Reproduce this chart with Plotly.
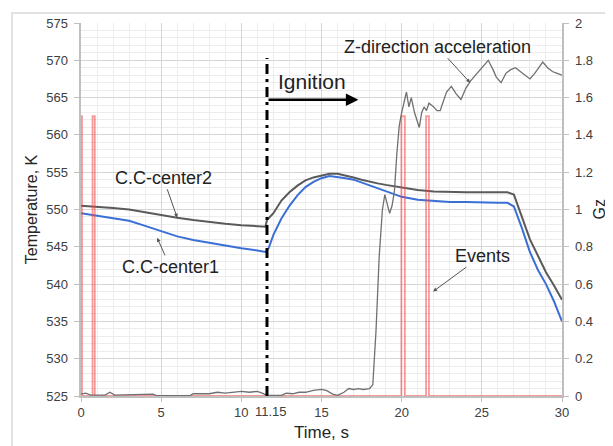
import plotly.graph_objects as go

# ---------------- data ----------------
time_c2 = [0, 1, 2, 3, 4, 5, 6, 7, 8, 9, 10, 11, 11.5, 11.6, 12, 12.5, 13, 13.5, 14, 14.5,
           15, 15.5, 16, 16.5, 17, 17.5, 18, 18.5, 19, 19.5, 20, 21, 22, 23, 24, 25, 26,
           26.6, 27, 27.5, 28, 28.5, 29, 29.5, 30]
temp_c2 = [550.5, 550.4, 550.2, 550.0, 549.6, 549.2, 548.9, 548.6, 548.3, 548.1, 547.9, 547.8,
           547.7, 548.6, 549.5, 551.2, 552.3, 553.2, 553.9, 554.3, 554.6, 554.8, 554.8, 554.6,
           554.3, 554.0, 553.7, 553.5, 553.3, 553.1, 553.0, 552.6, 552.4, 552.3, 552.3, 552.3,
           552.3, 552.3, 552.0, 549.0, 546.0, 543.8, 541.6, 539.8, 537.9]

time_c1 = [0, 1, 2, 3, 4, 5, 6, 7, 8, 9, 10, 11, 11.5, 11.7, 12, 12.5, 13, 13.5, 14, 14.5,
           15, 15.5, 16, 16.5, 17, 17.5, 18, 18.5, 19, 19.5, 20, 21, 22, 23, 24, 25, 26,
           26.6, 27, 27.5, 28, 28.5, 29, 29.5, 30]
temp_c1 = [549.5, 549.2, 548.9, 548.5, 547.8, 547.1, 546.4, 545.9, 545.5, 545.1, 544.8, 544.5,
           544.3, 544.8, 546.6, 548.8, 550.5, 551.9, 553.0, 553.7, 554.2, 554.5, 554.4, 554.2,
           554.0, 553.6, 553.2, 552.8, 552.4, 552.0, 551.7, 551.3, 551.1, 551.0, 551.0, 550.9,
           550.9, 550.9, 550.4, 547.5, 544.3, 541.9, 540.0, 537.7, 535.0]

time_acc = [0, 0.3, 0.6, 1.5, 1.8, 2.1, 4.5, 4.7, 6.8, 7, 8, 8.5, 9, 9.5, 10, 10.5, 11, 11.3,
            11.6, 12.5, 12.8, 13.2, 13.6, 14, 14.5, 15, 15.3, 15.7, 16, 16.4, 16.7, 17, 17.3,
            17.6, 18, 18.2, 18.4, 18.6, 18.8, 18.95, 19.1, 19.25, 19.4, 19.55, 19.7, 19.85,
            20.0, 20.15, 20.3, 20.45, 20.6, 20.8, 21.0, 21.1, 21.25, 21.4, 21.55, 21.7, 21.85,
            22.0, 22.2, 22.4, 22.6, 22.8, 23.1, 23.4, 23.7, 24.0, 24.3, 24.6, 25.0, 25.4, 25.7,
            25.9, 26.2, 26.5, 26.8, 27.1, 27.4, 27.7, 28.0, 28.3, 28.6, 28.8, 29.1, 29.4, 29.7, 30.0]
acc_gz = [0.01, 0.015, 0.005, 0.005, 0.02, 0.005, 0.01, 0.002, 0.002, 0.012, 0.012, 0.02, 0.015,
          0.02, 0.025, 0.02, 0.025, 0.015, 0.003, 0.003, 0.015, 0.012, 0.02, 0.02, 0.03, 0.035,
          0.03, 0.01, 0.003, 0.02, 0.04, 0.035, 0.04, 0.035, 0.04, 0.06, 0.35, 0.75, 1.0, 1.08,
          1.03, 0.98, 1.02, 1.1, 1.3, 1.45, 1.52, 1.58, 1.63, 1.55, 1.6, 1.52, 1.47, 1.44, 1.52,
          1.55, 1.53, 1.57, 1.56, 1.55, 1.53, 1.53, 1.58, 1.63, 1.66, 1.62, 1.59, 1.65, 1.69,
          1.72, 1.76, 1.80, 1.75, 1.71, 1.68, 1.73, 1.75, 1.76, 1.74, 1.72, 1.70, 1.73, 1.77,
          1.79, 1.76, 1.74, 1.73, 1.72]

event_start = [0.0, 0.72, 19.98, 21.52]
event_end = [0.06, 0.86, 20.2, 21.7]
event_level = 1.5

x_ticks = [0, 5, 10, 15, 20, 25, 30]
ignition_time = 11.6
ignition_label = "11.15"

# build the event step series from the pulse lists
ev_x, ev_y = [0.0], [0.0]
for s, e in zip(event_start, event_end):
    ev_x += [s, s, e, e]
    ev_y += [0, event_level, event_level, 0]
ev_x.append(30)
ev_y.append(0)

FONT = "Liberation Sans, Arial, sans-serif"
TXT = "#262626"
AX = "#bfbfbf"
TICKF = dict(size=13, color="#404040")
NB = "\u00a0"

fig = go.Figure()
fig.add_trace(go.Scatter(x=time_c2, y=temp_c2, mode="lines", name="C.C-center2",
                         line=dict(color="#5a5a5a", width=2)))
fig.add_trace(go.Scatter(x=time_c1, y=temp_c1, mode="lines", name="C.C-center1",
                         line=dict(color="#3a6fd6", width=2)))
fig.add_trace(go.Scatter(x=ev_x, y=ev_y, mode="lines", name="Events", yaxis="y2",
                         line=dict(color="rgba(240,70,70,0.55)", width=1.8)))
fig.add_trace(go.Scatter(x=time_acc, y=acc_gz, mode="lines", name="Z-direction acceleration",
                         yaxis="y2", line=dict(color="#707070", width=1.3)))

# the page body adds an 8px offset, so the figure is 8px smaller and margins compensate
fig.update_layout(
    width=605, height=438,
    margin=dict(l=73, r=51, t=15, b=50, autoexpand=False),
    paper_bgcolor="white", plot_bgcolor="white",
    showlegend=False,
    font=dict(family=FONT, color=TXT, size=13),
    xaxis=dict(range=[0, 30], tickvals=x_ticks, showgrid=True, gridcolor="#d6d6d6",
               minor=dict(tick0=0, dtick=1, showgrid=True, gridcolor="#ececec"),
               ticks="outside", ticklen=4, tickcolor=AX, showline=True, linecolor=AX,
               linewidth=1.5, zeroline=False, tickfont=TICKF, automargin=False,
               title=dict(text="Time, s", font=dict(size=17, color=TXT), standoff=7)),
    yaxis=dict(range=[525, 575], dtick=5, showgrid=True, gridcolor="#d6d6d6",
               minor=dict(tick0=525, dtick=1, showgrid=True, gridcolor="#ececec"),
               ticks="outside", ticklen=5, tickcolor=AX, showline=True, linecolor=AX,
               linewidth=1.5, zeroline=False, tickfont=TICKF, ticksuffix=NB, automargin=False,
               title=dict(text="Temperature, K", font=dict(size=16, color=TXT), standoff=5)),
    yaxis2=dict(range=[0, 2], dtick=0.2, overlaying="y", side="right", showgrid=False,
                ticks="outside", ticklen=5, tickcolor=AX, showline=True, linecolor=AX,
                linewidth=1.5, zeroline=False, tickfont=TICKF, tickprefix=NB, automargin=False),
)

# outer light frame
fig.add_shape(type="rect", xref="paper", yref="paper", x0=-0.1435, x1=1.2, y0=-0.5, y1=1.027,
              line=dict(color="#d9d9d9", width=1.5), layer="below")
# ignition dash-dot line
fig.add_shape(type="line", xref="x", yref="paper", x0=ignition_time, x1=ignition_time,
              y0=0, y1=0.906, line=dict(color="black", width=3, dash="10px,5px,3px,5px"))

ann = []
ann.append(dict(x=11.85, y=0, xref="x", yref="paper", yanchor="top", yshift=-6,
                text=ignition_label, showarrow=False, font=TICKF))
ann.append(dict(x=1.079, y=0.5, xref="paper", yref="paper", xanchor="center", yanchor="middle",
                text="Gz", textangle=-90, showarrow=False, font=dict(size=16, color=TXT)))
ann.append(dict(x=17.3, y=564.7, ax=ignition_time, ay=564.7, axref="x", ayref="y",
                xref="x", yref="y", text="", showarrow=True, arrowhead=2, arrowsize=1,
                arrowwidth=2.5, arrowcolor="black"))
ann.append(dict(x=12.15, y=567.1, xref="x", yref="y", xanchor="left", text="Ignition",
                showarrow=False, font=dict(size=21, color="#222")))
arrow_style = dict(showarrow=True, arrowhead=2, arrowsize=0.8, arrowwidth=1,
                   arrowcolor="#555", font=dict(size=18, color="#222"))
ann.append(dict(x=24.27, y=1.68, xref="x", yref="y2", text="Z-direction acceleration",
                ax=-33, ay=-36, **arrow_style))
ann.append(dict(x=6.0, y=548.9, xref="x", yref="y", text="C.C-center2",
                ax=-14, ay=-40, **arrow_style))
ann.append(dict(x=4.75, y=546.2, xref="x", yref="y", text="C.C-center1",
                ax=13, ay=29, **arrow_style))
ann.append(dict(x=21.96, y=0.56, xref="x", yref="y2", text="Events",
                ax=49, ay=-36, **arrow_style))
fig.update_layout(annotations=ann)

fig.write_html("out.html")
